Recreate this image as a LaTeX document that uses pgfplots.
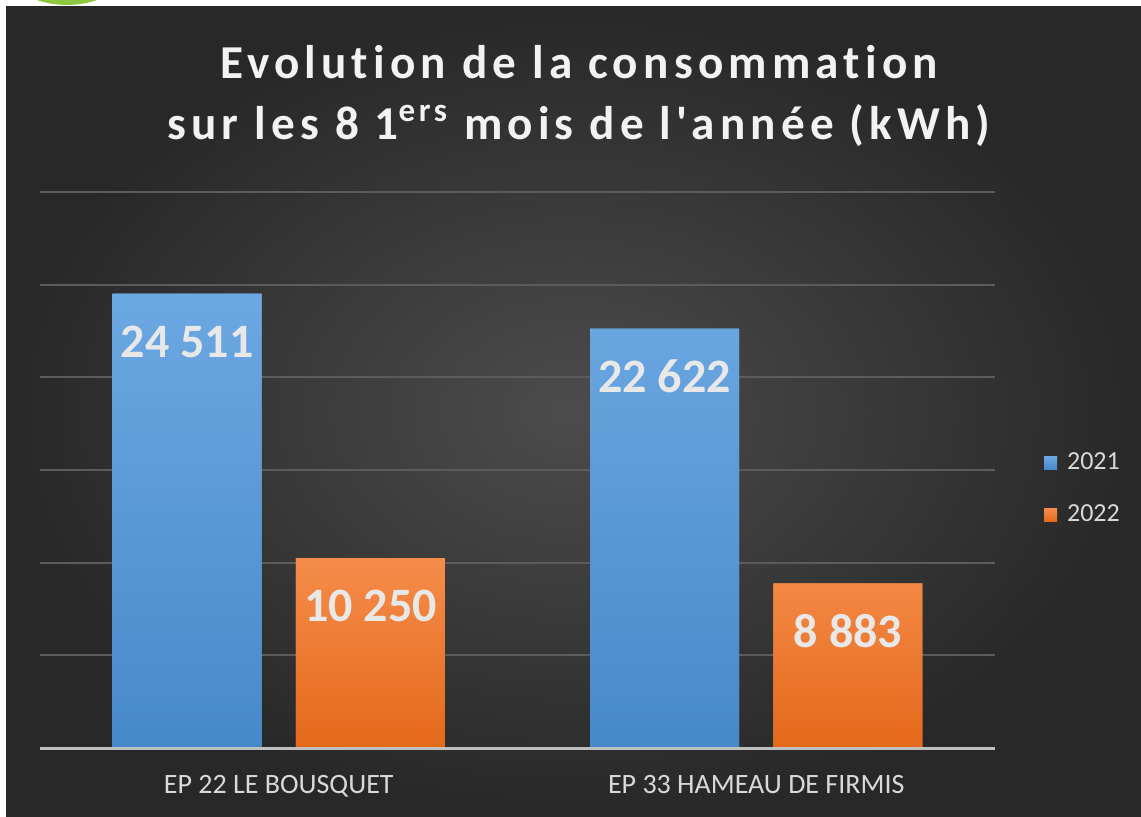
\documentclass[border=0pt]{standalone}
\usepackage{pgfplots}
\pgfplotsset{compat=1.18}
\usepackage{fontspec}
\setmainfont{Carlito}
\newfontfamily\titlefont[LetterSpace=11, Ligatures={NoCommon,NoRare}]{Carlito}
\definecolor{bgin}{HTML}{4C4C4C}
\definecolor{bgout}{HTML}{282828}
\definecolor{gridc}{HTML}{5C5C5C}
\definecolor{basec}{HTML}{BFBFBF}
\definecolor{titlec}{HTML}{F2F2F2}
\definecolor{labc}{HTML}{D9D9D9}
\definecolor{valc}{HTML}{E8E8E8}
\definecolor{btop}{HTML}{6CA8E2}
\definecolor{bbot}{HTML}{4689CA}
\definecolor{otop}{HTML}{F58C4A}
\definecolor{obot}{HTML}{E4691A}
\definecolor{logo}{HTML}{8DC63F}
\begin{document}
\begin{tikzpicture}
\useasboundingbox (0,0) rectangle (570.5pt,408pt);
\fill[white] (0,0) rectangle (570.5pt,408pt);
\begin{scope}
\clip (0,0) rectangle (570.5pt,408pt);
\fill[logo] (33.5pt,451.75pt) circle (46.25pt);
\end{scope}
\shade[inner color=bgin, outer color=bgout] (3pt,0) rectangle (570.5pt,404.5pt);
\node[anchor=base, text=titlec, font=\titlefont\bfseries\fontsize{23.6}{28}\selectfont] at (289.5pt,368.5pt) {Evolution de la consommation};
\node[anchor=base, text=titlec, font=\titlefont\bfseries\fontsize{23.6}{28}\selectfont] at (289.5pt,338pt) {sur les 8 1\textsuperscript{ers} mois de l'année (kWh)};
\begin{axis}[
  at={(20pt,34pt)}, anchor=south west, scale only axis,
  width=477.5pt, height=278pt,
  xmin=-0.5, xmax=1.5, ymin=0, ymax=30000,
  xtick={0,1}, xticklabels={EP 22 LE BOUSQUET, EP 33 HAMEAU DE FIRMIS},
  xticklabel style={text=labc, font=\fontsize{14}{16}\selectfont, anchor=north, yshift=-10pt},
  ytick={5000,10000,15000,20000,25000,30000}, yticklabels={},
  scaled y ticks=false,
  ymajorgrids, grid style={color=gridc, line width=1pt},
  major tick length=0pt,
  axis line style={draw=none},
  clip=false,
  point meta=explicit symbolic,
  nodes near coords,
  every node near coord/.append style={anchor=center, yshift=-24pt, text=valc, font=\bfseries\fontsize{24}{28}\selectfont},
  legend style={at={(1.051,0.466)}, anchor=west, draw=none, fill=none, text=labc,
    font=\fontsize{13}{15}\selectfont, row sep=12pt, inner sep=0pt,
    nodes={inner xsep=5pt}},
  legend cell align=left,
  legend image code/.code={\fill[#1] (0pt,-3.25pt) rectangle (6.5pt,3.25pt);},
]
\addplot[ybar, bar width=0.312, bar shift=-0.192, draw=none, top color=btop, bottom color=bbot, fill=btop,
  every node near coord/.append style={xshift=-45.84pt}]
  coordinates {(0,24511) [24 511] (1,22622) [22 622]};
\addplot[ybar, bar width=0.312, bar shift=0.192, draw=none, top color=otop, bottom color=obot, fill=otop,
  every node near coord/.append style={xshift=45.84pt}]
  coordinates {(0,10250) [10 250] (1,8883) [8 883]};
\legend{2021,2022}
\draw[basec, line width=1.5pt] (rel axis cs:0,0) -- (rel axis cs:1,0);
\end{axis}
\end{tikzpicture}
\end{document}
